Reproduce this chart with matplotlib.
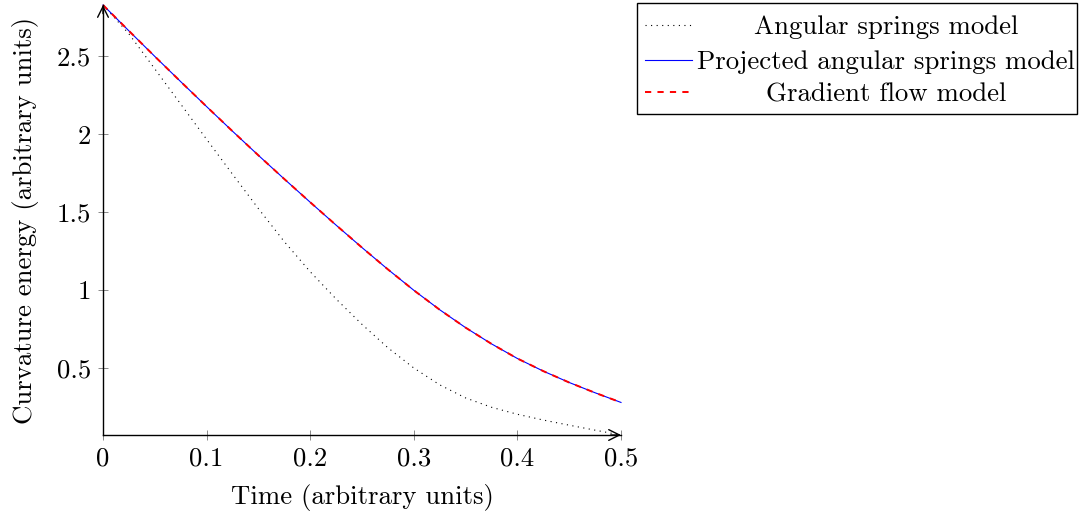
import matplotlib
matplotlib.use("Agg")
import matplotlib.pyplot as plt
from matplotlib.lines import Line2D
from matplotlib.patches import Rectangle

plt.rcParams['font.family'] = 'cmr10'
plt.rcParams['mathtext.fontset'] = 'cm'
plt.rcParams['axes.formatter.use_mathtext'] = True
plt.rcParams['font.size'] = 19.3

# curvature energy over time for the three models
time = [0.0, 0.025, 0.05, 0.075, 0.1, 0.125, 0.15, 0.175, 0.2, 0.225, 0.25,
        0.275, 0.3, 0.325, 0.35, 0.375, 0.4, 0.425, 0.45, 0.475, 0.5]
angular_springs = [2.83, 2.645, 2.42, 2.194, 1.968, 1.744, 1.523, 1.311, 1.118, 0.943, 0.780,
                   0.630, 0.500, 0.392, 0.308, 0.248, 0.203, 0.166, 0.133, 0.101, 0.07]
projected_springs = [2.83, 2.664, 2.500, 2.338, 2.178, 2.020, 1.865, 1.713, 1.564, 1.417, 1.273,
                     1.133, 0.999, 0.874, 0.759, 0.655, 0.561, 0.480, 0.407, 0.341, 0.279]
gradient_flow = [2.83, 2.664, 2.500, 2.338, 2.178, 2.020, 1.865, 1.713, 1.564, 1.417, 1.273,
                 1.133, 0.999, 0.874, 0.759, 0.655, 0.561, 0.480, 0.407, 0.341, 0.279]

labels = ["Angular springs model", "Projected angular springs model", "Gradient flow model"]
x_ticks = [0, 0.1, 0.2, 0.3, 0.4, 0.5]
x_tick_labels = ["0", "0.1", "0.2", "0.3", "0.4", "0.5"]
y_ticks = [0.5, 1, 1.5, 2, 2.5]
y_tick_labels = ["0.5", "1", "1.5", "2", "2.5"]

styles = [
    dict(color='black', linewidth=0.8, linestyle=(0, (1, 4))),
    dict(color='blue', linewidth=0.8, linestyle='-'),
    dict(color='red', linewidth=1.4, linestyle=(0, (3.2, 3.2))),
]

W, H = 1079, 515
fig = plt.figure(figsize=(W / 100, H / 100), dpi=100)
ax = fig.add_axes([103 / W, 80 / H, 518 / W, 430 / H])

series = [angular_springs, projected_springs, gradient_flow]
for values, st in zip(series, styles):
    ax.plot(time, values, clip_on=False, **st)

ax.set_xlim(0, 0.5)
ax.set_ylim(0.07, 2.83)
ax.set_xticks(x_ticks)
ax.set_xticklabels(x_tick_labels)
ax.set_yticks(y_ticks)
ax.set_yticklabels(y_tick_labels)
ax.tick_params(direction='inout', length=7, width=0.6, color='#777777', pad=5)

# axis lines = left, with arrow heads
for side in ['top', 'right']:
    ax.spines[side].set_visible(False)
for side in ['left', 'bottom']:
    ax.spines[side].set_linewidth(1.0)
ax.annotate('', xy=(1.0, 0), xytext=(0.98, 0), xycoords='axes fraction',
            arrowprops=dict(arrowstyle='->', color='black', lw=1.0, shrinkA=0, shrinkB=0))
ax.annotate('', xy=(0, 1.0), xytext=(0, 0.98), xycoords='axes fraction',
            arrowprops=dict(arrowstyle='->', color='black', lw=1.0, shrinkA=0, shrinkB=0))

ax.set_xlabel("Time (arbitrary units)", labelpad=10)
ax.set_ylabel("Curvature energy (arbitrary units)", labelpad=13)

# legend box with centred entries, outside the axes
def fx(px):
    return px / W

def fy(py):
    return 1 - py / H

fig.add_artist(Rectangle((fx(637), fy(114)), fx(1077) - fx(637), fy(3) - fy(114),
                         transform=fig.transFigure, facecolor='white',
                         edgecolor='black', linewidth=1.0))
rows = [25, 60, 92]
for label, st, row in zip(labels, styles, rows):
    fig.add_artist(Line2D([fx(645), fx(692)], [fy(row), fy(row)],
                          transform=fig.transFigure, **st))
    fig.text(fx(886), fy(row), label, ha='center', va='center_baseline')

fig.savefig('out.png', dpi=100)
